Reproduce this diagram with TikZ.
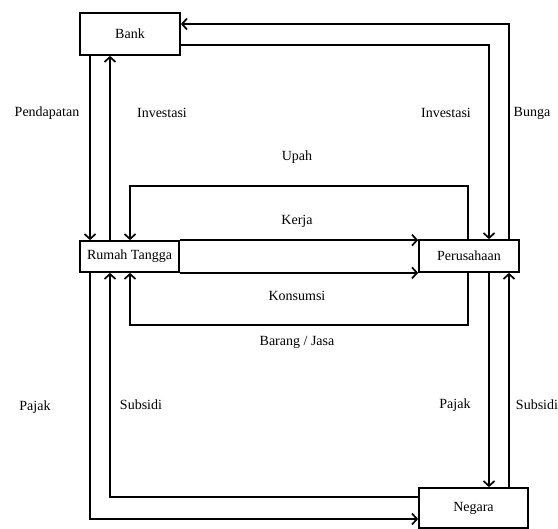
\documentclass[tikz,border=0pt]{standalone}
\usepackage{fontspec}
\setmainfont{Liberation Serif}
\usetikzlibrary{arrows.meta}
\begin{document}
\begin{tikzpicture}[x=1pt,y=-1pt,
  box/.style={draw,line width=1.7pt,minimum width=#1,inner sep=0pt,fill=white},
  lbl/.style={font=\fontsize{14}{16}\selectfont,inner sep=0pt},
  arr/.style={line width=1.7pt,-{Straight Barb[length=5pt,width=11pt,line width=1.7pt]}}]
\useasboundingbox (0,0) rectangle (558,529);
% nodes
\node[box=100pt,minimum height=42pt] (bank) at (130,34) {};
\node[box=99pt,minimum height=31pt] (rt) at (129.5,256.5) {};
\node[box=100pt,minimum height=32pt] (per) at (469,256) {};
\node[box=109pt,minimum height=40pt] (neg) at (473.5,508) {};
% guide coordinates
\coordinate (xLa) at (90,0);
\coordinate (xLb) at (110,0);
\coordinate (xUL) at (130,0);
\coordinate (xU) at (468,0);
\coordinate (xRa) at (489,0);
\coordinate (xRb) at (509,0);
\coordinate (yTa) at (0,24);
\coordinate (yTb) at (0,45);
\coordinate (yU) at (0,186);
\coordinate (yB) at (0,325);
\coordinate (yS) at (0,497);
\coordinate (yP) at (0,519);
% Bank <-> Rumah Tangga
\draw[arr] (bank.south -| xLa) -- (rt.north -| xLa);
\draw[arr] (rt.north -| xLb) -- (bank.south -| xLb);
% Bank <-> Perusahaan
\draw[arr] (per.north -| xRb) -- (xRb |- yTa) -- (bank.east |- yTa);
\draw[arr] (bank.east |- yTb) -- (xRa |- yTb) -- (per.north -| xRa);
% Upah
\draw[arr] (per.north -| xU) -- (xU |- yU) -- (xUL |- yU) -- (rt.north -| xUL);
% Kerja, Konsumsi
\draw[arr] (rt.north east) -- (per.west |- rt.north east);
\draw[arr] (rt.south east) -- (per.west |- rt.south east);
% Barang / Jasa
\draw[arr] (per.south -| xU) -- (xU |- yB) -- (xUL |- yB) -- (rt.south -| xUL);
% Rumah Tangga <-> Negara
\draw[arr] (rt.south -| xLa) -- (xLa |- yP) -- (neg.west |- yP);
\draw[arr] (neg.west |- yS) -- (xLb |- yS) -- (rt.south -| xLb);
% Perusahaan <-> Negara
\draw[arr] (per.south -| xRa) -- (neg.north -| xRa);
\draw[arr] (neg.north -| xRb) -- (per.south -| xRb);
% redraw boxes on top
\node[box=100pt,minimum height=42pt,lbl] at (bank) {Bank};
\node[box=99pt,minimum height=31pt,lbl] at (rt) {Rumah Tangga};
\node[box=100pt,minimum height=32pt,lbl] at (per) {Perusahaan};
\node[box=109pt,minimum height=40pt,lbl] at (neg) {Negara};
% labels
\node[lbl] (l1) at (47,113) {Pendapatan};
\node[lbl] (l2) at (162,113) {Investasi};
\node[lbl] (l3) at (446,113) {Investasi};
\node[lbl] (l4) at (532,113) {Bunga};
\node[lbl] (l5) at (297,157) {Upah};
\node[lbl] (l6) at (297,221) {Kerja};
\node[lbl] (l7) at (297,296) {Konsumsi};
\node[lbl] (l8) at (297,342) {Barang / Jasa};
\node[lbl] (l9) at (35,407) {Pajak};
\node[lbl] (l10) at (141,405) {Subsidi};
\node[lbl] (l11) at (455,405) {Pajak};
\node[lbl] (l12) at (537,405) {Subsidi};
\end{tikzpicture}
\end{document}
